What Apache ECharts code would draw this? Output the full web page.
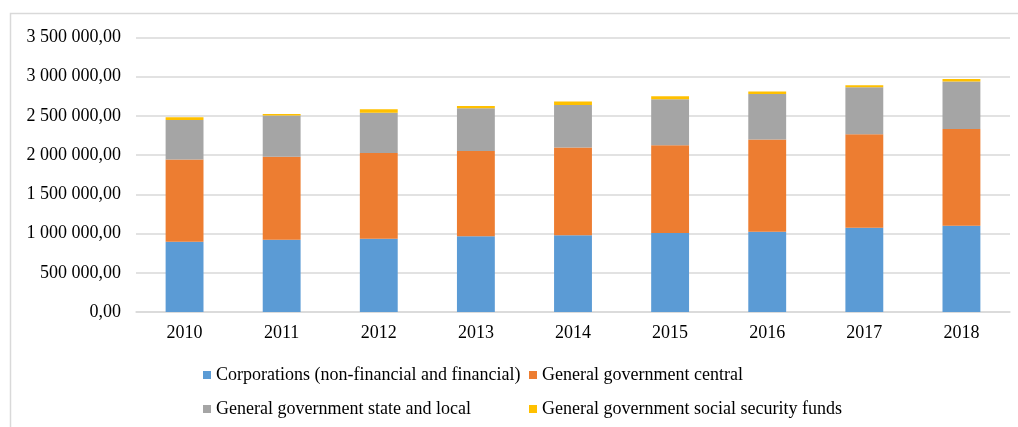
<!DOCTYPE html>
<html>
<head>
<meta charset="utf-8">
<script src="https://cdn.jsdelivr.net/npm/echarts@6/dist/echarts.min.js"></script>
<style>
html,body{margin:0;padding:0;background:#fff;}
#chart{width:1018px;height:427px;}
</style>
</head>
<body>
<div id="chart"></div>
<script>
const years = ['2010','2011','2012','2013','2014','2015','2016','2017','2018'];
const seriesNames = [
  'Corporations (non-financial and financial)',
  'General government central',
  'General government state and local',
  'General government social security funds'
];
const corporations = [897000, 922000, 935000, 965000, 978000, 1008000, 1024000, 1075000, 1101000];
const govCentral = [1046000, 1059000, 1093000, 1089000, 1118000, 1118000, 1174000, 1191000, 1233000];
const govStateLocal = [506000, 523000, 514000, 544000, 544000, 587000, 583000, 600000, 604000];
const govSocialSecurity = [34000, 21000, 43000, 30000, 43000, 38000, 29000, 25000, 34000];
const yTicks = { min: 0, max: 3500000, interval: 500000 };

const colors = ['#5b9bd5', '#ed7d31', '#a5a5a5', '#ffc000'];
const dataSets = [corporations, govCentral, govStateLocal, govSocialSecurity];

function fmt(v) {
  const s = Math.round(v).toString().replace(/\B(?=(\d{3})+(?!\d))/g, ' ');
  return s + ',00';
}

const font = '"Liberation Serif", "Times New Roman", serif';
const legendBase = {
  orient: 'vertical', top: 365, padding: 0,
  itemWidth: 8, itemHeight: 8, itemGap: 14, icon: 'rect',
  textStyle: { fontFamily: font, fontSize: 18, color: '#000', lineHeight: 20 }
};
const chart = echarts.init(document.getElementById('chart'));
chart.setOption({
  animation: false,
  color: colors,
  graphic: [{
    type: 'rect',
    shape: { x: 10.5, y: 13.5, width: 1100, height: 600 },
    style: { fill: 'none', stroke: '#d9d9d9', lineWidth: 1.5 },
    silent: true
  }],
  grid: { left: 136, right: 8, top: 37.5, bottom: 115 },
  legend: [
    Object.assign({}, legendBase, { left: 203, data: [seriesNames[0], seriesNames[2]] }),
    Object.assign({}, legendBase, { left: 529, data: [seriesNames[1], seriesNames[3]] })
  ],
  xAxis: {
    type: 'category',
    data: years,
    axisLine: { lineStyle: { color: '#d9d9d9', width: 1.5 } },
    axisTick: { show: false },
    axisLabel: { fontFamily: font, fontSize: 18, color: '#000', margin: 12 }
  },
  yAxis: {
    type: 'value',
    min: yTicks.min, max: yTicks.max, interval: yTicks.interval,
    axisLine: { show: false },
    axisTick: { show: false },
    splitLine: { lineStyle: { color: '#d9d9d9', width: 1.5 } },
    axisLabel: { fontFamily: font, fontSize: 18, color: '#000', margin: 15, formatter: fmt }
  },
  series: seriesNames.map((name, i) => ({
    name: name,
    type: 'bar',
    stack: 'total',
    barWidth: '39%',
    data: dataSets[i],
    itemStyle: { color: colors[i] }
  }))
});
</script>
</body>
</html>
